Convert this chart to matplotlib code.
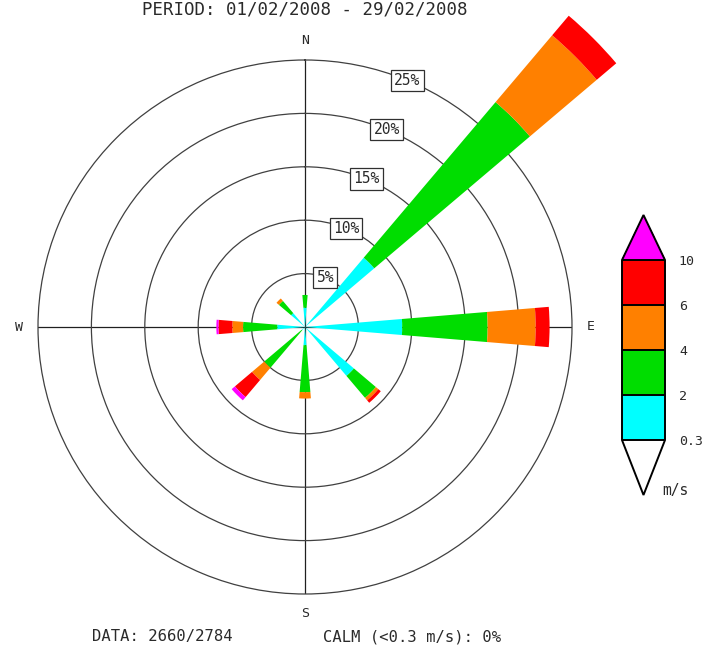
import numpy as np
import matplotlib
matplotlib.use("Agg")
import matplotlib.pyplot as plt
from matplotlib.colors import ListedColormap, BoundaryNorm
from matplotlib.cm import ScalarMappable

# ---- data ----
directions = ["N", "NE", "E", "SE", "S", "SW", "W", "NW"]
dir_deg = [0, 45, 90, 135, 180, 225, 270, 315]
speed_bins = ["0.3-2", "2-4", "4-6", "6-10", ">10"]
bin_colors = ["#00ffff", "#00dd00", "#ff8000", "#ff0000", "#ff00ff"]
# frequency (%) per direction for each speed bin
freq_03_2 = [1.8, 8.5, 9.1, 6.0, 1.7, 0.4, 2.6, 1.7]
freq_2_4 = [1.2, 19.1, 8.0, 2.7, 4.4, 4.6, 3.2, 1.5]
freq_4_6 = [0.0, 8.2, 4.5, 0.3, 0.6, 1.5, 1.0, 0.3]
freq_6_10 = [0.0, 2.4, 1.3, 0.3, 0.0, 2.1, 1.3, 0.0]
freq_gt10 = [0.0, 0.0, 0.0, 0.0, 0.0, 0.4, 0.2, 0.0]
ring_levels = [5, 10, 15, 20, 25]
cb_levels = [0.3, 2, 4, 6, 10]
cb_labels = ["0.3", "2", "4", "6", "10"]
title = "PERIOD: 01/02/2008 - 29/02/2008"
data_text = "DATA: 2660/2784"
calm_text = "CALM (<0.3 m/s): 0%"

W, H = 704, 655
fig = plt.figure(figsize=(W / 100, H / 100), dpi=100)
fig.patch.set_facecolor("white")
MONO = "DejaVu Sans Mono"
TXT = "#2a2a2a"

cx, cy, R = 305, 327, 267
ax = fig.add_axes([(cx - R) / W, (H - cy - R) / H, 2 * R / W, 2 * R / H],
                  projection="polar")
ax.set_theta_zero_location("N")
ax.set_theta_direction(-1)
ax.set_ylim(0, ring_levels[-1])
ax.set_yticks(ring_levels[:-1])
ax.set_yticklabels([])
ax.set_xticks(np.deg2rad([0, 90, 180, 270]))
ax.set_xticklabels([])
ax.tick_params(axis="both", length=0)
ax.yaxis.grid(True, color="#404040", lw=0.9)
ax.xaxis.grid(True, color="#202020", lw=0.9)
ax.spines["polar"].set_color("#404040")
ax.spines["polar"].set_linewidth(0.9)
ax.set_axisbelow(True)

theta = np.deg2rad(dir_deg)
width = 0.165
cum = np.zeros(len(directions))
for vals, col in zip([freq_03_2, freq_2_4, freq_4_6, freq_6_10, freq_gt10], bin_colors):
    vals = np.array(vals)
    ax.bar(theta, vals, width=width, bottom=cum, color=col, edgecolor="none",
           clip_on=False, zorder=3, linewidth=0)
    cum = cum + vals

for r in ring_levels:
    ax.text(np.deg2rad(22.5), r, f"{r}%", ha="center", va="center",
            family=MONO, fontsize=10.5, color=TXT, zorder=5, clip_on=False,
            bbox=dict(boxstyle="square,pad=0.22", fc="white", ec="#303030", lw=0.9))

for lab, ang in zip(["N", "E", "S", "W"], [0, 90, 180, 270]):
    ax.text(np.deg2rad(ang), 26.8, lab, ha="center", va="center",
            family=MONO, fontsize=9.5, color=TXT, clip_on=False)

# colorbar (axes spans the extension triangles too)
cb_top, cb_bot = 215, 495
cax = fig.add_axes([622 / W, (H - cb_bot) / H, 43 / W, (cb_bot - cb_top) / H])
cmap = ListedColormap(bin_colors[:4])
cmap.set_over(bin_colors[4])
cmap.set_under("white")
norm = BoundaryNorm(cb_levels, cmap.N)
cb = fig.colorbar(ScalarMappable(norm=norm, cmap=cmap), cax=cax, extend="both",
                  spacing="uniform", drawedges=True, extendfrac=(0.305, 0.25),
                  ticks=cb_levels)
cb.set_ticklabels(cb_labels)
cb.outline.set_linewidth(1.4)
cb.outline.set_edgecolor("black")
cb.dividers.set_linewidth(1.4)
cb.dividers.set_color("black")
cax.tick_params(length=0, pad=10, labelsize=9.5, labelcolor=TXT)
for t in cax.get_yticklabels():
    t.set_family(MONO)
fig.text(662 / W, 1 - 491 / H, "m/s", ha="left", va="center",
         family=MONO, fontsize=10.5, color=TXT)

fig.text(cx / W, 1 - 9 / H, title, ha="center", va="center",
         family=MONO, fontsize=12.5, color=TXT)
fig.text(92 / W, 1 - 637 / H, data_text, ha="left", va="center",
         family=MONO, fontsize=11.2, color=TXT)
fig.text(323 / W, 1 - 637 / H, calm_text, ha="left", va="center",
         family=MONO, fontsize=11.2, color=TXT)

fig.savefig("out.png", dpi=100)
